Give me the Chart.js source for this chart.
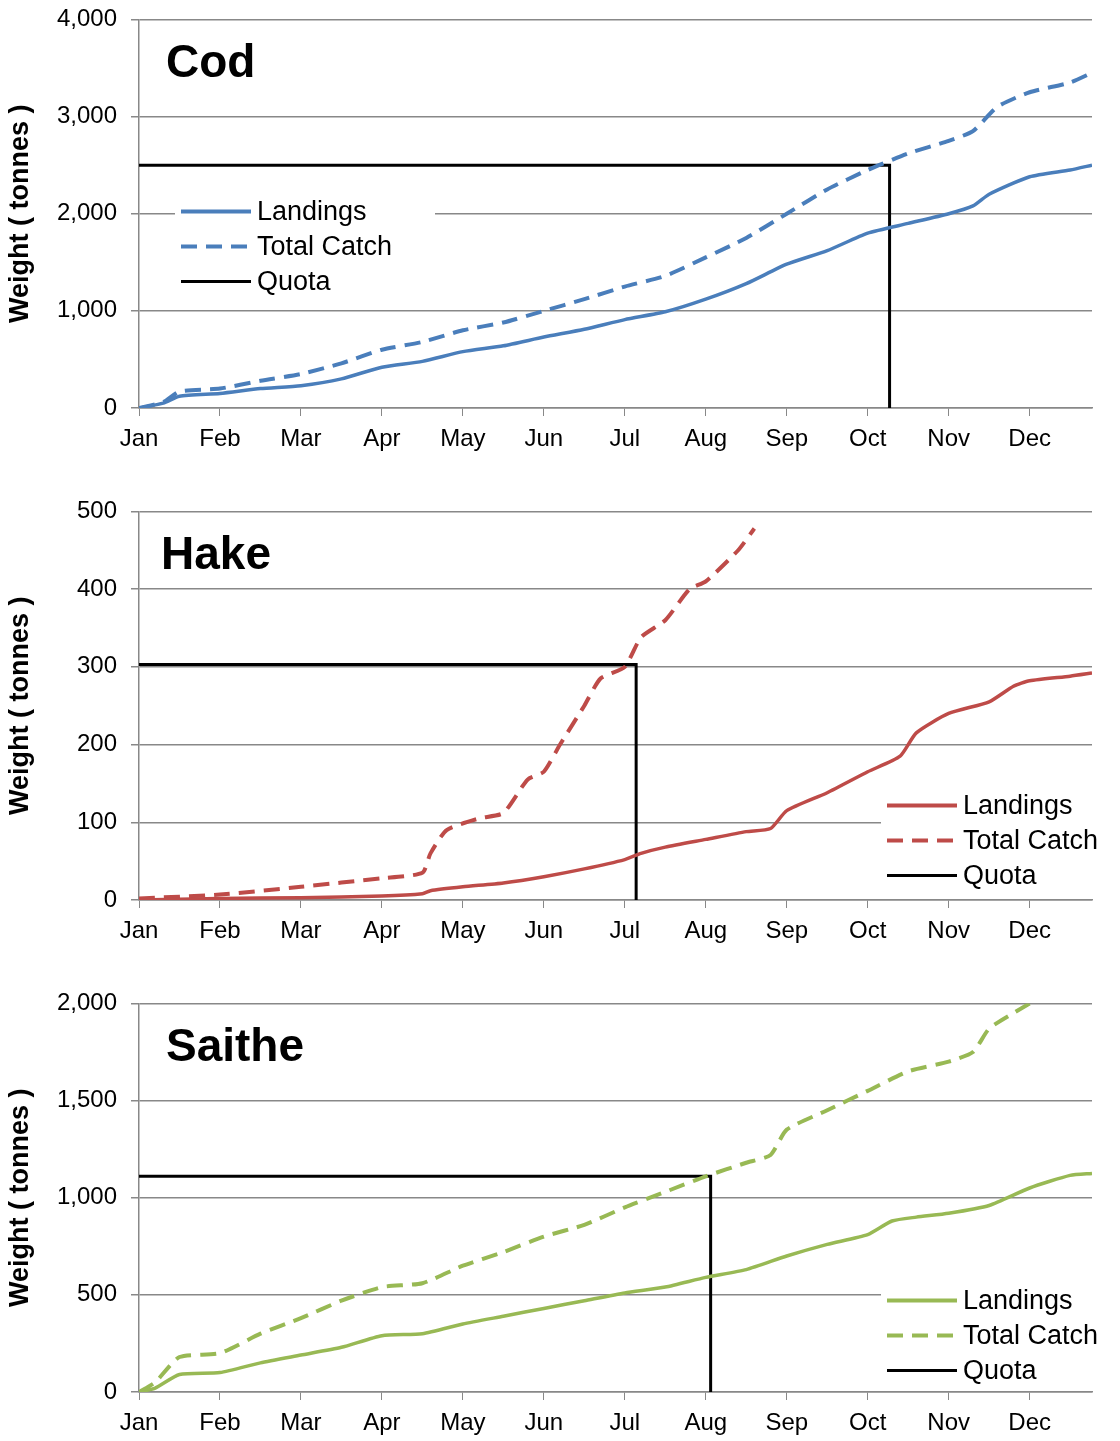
<!DOCTYPE html>
<html><head><meta charset="utf-8">
<script src="https://cdn.jsdelivr.net/npm/chart.js@4/dist/chart.umd.min.js"></script>
<style>body{margin:0;background:#fff;overflow:hidden}canvas{display:block}div.p{position:absolute;left:0;width:1120px}</style>
</head><body>
<div class="p" style="top:-9px;height:501px"><canvas id="c1"></canvas></div>
<div class="p" style="top:483px;height:501px"><canvas id="c2"></canvas></div>
<div class="p" style="top:975px;height:466px"><canvas id="c3"></canvas></div>
<script>
const months = ['Jan','Feb','Mar','Apr','May','Jun','Jul','Aug','Sep','Oct','Nov','Dec'];
const xEnd = 11.77;

const codLandX = [0,0.3,0.5,1,1.5,2,2.5,3,3.5,4,4.5,5,5.5,6,6.5,7,7.5,8,8.5,9,9.5,10,10.3,10.5,11,11.5,11.77];
const codLandY = [0,50,120,150,200,230,300,420,480,580,640,730,810,910,990,1120,1280,1480,1620,1800,1900,2000,2080,2200,2380,2450,2500];
const codTotX = [0,0.3,0.5,1,1.5,2,2.5,3,3.5,4,4.5,5,5.5,6,6.5,7,7.5,8,8.5,9,9.5,10,10.3,10.6,11,11.5,11.77];
const codTotY = [0,60,170,200,280,350,460,600,680,800,880,1000,1120,1250,1360,1550,1750,2000,2250,2450,2620,2750,2850,3100,3250,3350,3450];
const codQuota = [2500, 9.27];

const hakeLandX = [0,1,2,3,3.5,3.6,4,4.5,5,5.5,6,6.2,6.5,7,7.5,7.8,8,8.5,9,9.4,9.6,10,10.5,10.8,11,11.5,11.77];
const hakeLandY = [0,2,3,5,8,12,17,22,30,40,52,60,68,78,88,92,115,138,165,185,215,240,255,275,282,288,292];
const hakeTotX = [0,1,2,3,3.5,3.6,3.8,4.2,4.5,4.8,5,5.2,5.5,5.7,6,6.2,6.5,6.8,7,7.4,7.6];
const hakeTotY = [2,7,17,28,35,60,90,105,112,155,165,200,250,285,300,338,360,400,410,450,478];
const hakeQuota = [303, 6.14];

const saiLandX = [0,0.2,0.5,1,1.5,2,2.5,3,3.5,4,4.5,5,5.5,6,6.5,7,7.5,8,8.5,9,9.3,9.6,10,10.5,11,11.5,11.77];
const saiLandY = [0,20,90,100,150,190,230,290,300,350,390,430,470,510,540,590,630,700,760,810,880,900,920,960,1050,1115,1125];
const saiTotX = [0,0.2,0.5,1,1.5,2,2.5,3,3.5,4,4.5,5,5.5,6,6.5,7,7.5,7.8,8,8.5,9,9.5,10,10.3,10.5,10.8,11];
const saiTotY = [0,50,180,200,300,380,470,540,560,650,720,800,860,950,1030,1110,1180,1220,1350,1450,1550,1650,1700,1750,1870,1950,2000];
const saiQuota = [1110, 7.06];

function pts(xs, ys) { return xs.map((x, i) => ({x, y: ys[i]})); }

const titlePlugin = {
  id: 'panel',
  afterDraw(chart, args, o) {
    const ctx = chart.ctx, a = chart.chartArea;
    ctx.save();
    ctx.fillStyle = '#000';
    ctx.font = 'bold 46px "Liberation Sans", Arial';
    ctx.textBaseline = 'middle';
    ctx.fillText(o.title, a.left + o.tx, a.top + 45);
    const lx = a.left + o.lx, ly = a.top + o.ly;
    ctx.fillStyle = '#fff';
    ctx.fillRect(lx - 6, ly - 20, 260, 100);
    const items = [[o.color, []], [o.color, [16, 9]], ['#000', []]];
    const labels = ['Landings', 'Total Catch', 'Quota'];
    items.forEach((it, i) => {
      const y = ly + i * 35;
      ctx.strokeStyle = it[0]; ctx.lineWidth = i === 2 ? 3 : 4; ctx.setLineDash(it[1]);
      ctx.beginPath(); ctx.moveTo(lx, y); ctx.lineTo(lx + 70, y); ctx.stroke();
      ctx.setLineDash([]);
      ctx.fillStyle = '#000'; ctx.font = '27px "Liberation Sans", Arial';
      ctx.fillText(labels[i], lx + 76, y + 1);
    });
    ctx.restore();
  }
};

function makeChart(id, land, tot, quota, color, yMax, yStep, xH, title, tx, lx, ly) {
  new Chart(document.getElementById(id), {
    type: 'line',
    data: { datasets: [
      { data: land, borderColor: color, borderWidth: 3.5, pointRadius: 0, tension: 0.2 },
      { data: tot, borderColor: color, borderWidth: 4, borderDash: [16, 9], pointRadius: 0, tension: 0.2 },
      { data: [{x: 0, y: quota[0]}, {x: quota[1], y: quota[0]}, {x: quota[1], y: 0}], borderColor: '#000', borderWidth: 3, pointRadius: 0 }
    ]},
    options: {
      responsive: true, maintainAspectRatio: false, animation: false,
      layout: { padding: { top: 12, right: 28 } },
      plugins: { legend: { display: false }, tooltip: { enabled: false },
        panel: { title, tx, lx, ly, color } },
      scales: {
        x: { type: 'linear', min: 0, max: xEnd, afterFit: s => { s.height = xH; },
          afterBuildTicks: s => { s.ticks = months.map((m, i) => ({value: i})); },
          ticks: { color: '#000', font: { size: 24, family: '"Liberation Sans", Arial' }, maxRotation: 0, autoSkip: false,
            padding: 9, callback: v => months[v] },
          grid: { display: true, drawOnChartArea: false, color: '#888', tickLength: 8 },
          border: { color: '#888', width: 1.5 } },
        y: { min: 0, max: yMax, afterFit: s => { s.width = 139; },
          ticks: { stepSize: yStep, color: '#000', padding: 14, font: { size: 24, family: '"Liberation Sans", Arial' },
            callback: v => v.toLocaleString('en-US') },
          grid: { color: '#888', lineWidth: 1.5, tickLength: 8 },
          border: { color: '#888', width: 1.5 },
          title: { display: true, text: 'Weight ( tonnes )', color: '#000', font: { size: 27, weight: 'bold', family: '"Liberation Sans", Arial' } } }
      }
    },
    plugins: [titlePlugin]
  });
}

makeChart('c1', pts(codLandX, codLandY), pts(codTotX, codTotY), codQuota, '#4a7ebb', 4000, 1000, 84, 'Cod', 27, 42, 192);
makeChart('c2', pts(hakeLandX, hakeLandY), pts(hakeTotX, hakeTotY), hakeQuota, '#be4b48', 500, 100, 84, 'Hake', 22, 748, 294);
makeChart('c3', pts(saiLandX, saiLandY), pts(saiTotX, saiTotY), saiQuota, '#98b954', 2000, 500, 49, 'Saithe', 27, 748, 297);
</script>
</body></html>
